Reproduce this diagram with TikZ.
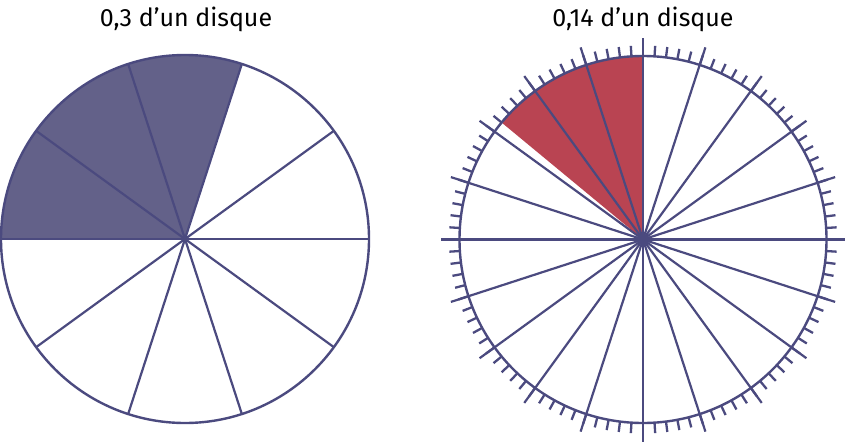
\documentclass[tikz,border=0pt]{standalone}
\usepackage{fontspec}
\setmainfont{Fira Sans}
\usetikzlibrary{calc}
\definecolor{navy}{HTML}{4B4A7F}
\definecolor{purplefill}{HTML}{636189}
\definecolor{redfill}{HTML}{B94452}
\begin{document}
\begin{tikzpicture}[x=1pt,y=-1pt,
  radline/.style={draw=navy,line width=2.2pt},
  rim/.style={draw=navy,line width=2.4pt},
  tick/.style={draw=navy,line width=2.3pt},
  title/.style={font=\fontsize{25}{30}\selectfont,text=black,inner sep=0pt,anchor=base}]
\useasboundingbox (0,0) rectangle (846,442);
% left disk
\coordinate (L) at (185,239);
\fill[purplefill] (L) -- ++(-184,0) arc[start angle=180,end angle=72,x radius=184,y radius=-184] -- cycle;
\foreach \a in {0,36,...,324} \draw[radline] (L) -- ++({cos(\a)*184},{-sin(\a)*184});
\draw[rim] (L) circle[radius=184];
\node[title] (t1) at (186,26) {0,3 d’un disque};
% right disk
\coordinate (R) at (643,239.5);
\fill[redfill] (R) -- ++(0,-183.5) arc[start angle=-90,end angle=-140.4,radius=183.5] -- cycle;
\foreach \a in {0,18,...,342} \draw[radline] (R) -- ++({cos(\a)*202},{-sin(\a)*202});
\draw[rim] (R) circle[radius=183.5];
\foreach \i in {0,...,99} {
  \pgfmathsetmacro{\a}{\i*3.6}
  \draw[tick] ($(R)+({cos(\a)*183.5},{-sin(\a)*183.5})$) -- ($(R)+({cos(\a)*194},{-sin(\a)*194})$);
}
\node[title] (t2) at (643,26) {0,14 d’un disque};
\end{tikzpicture}
\end{document}
